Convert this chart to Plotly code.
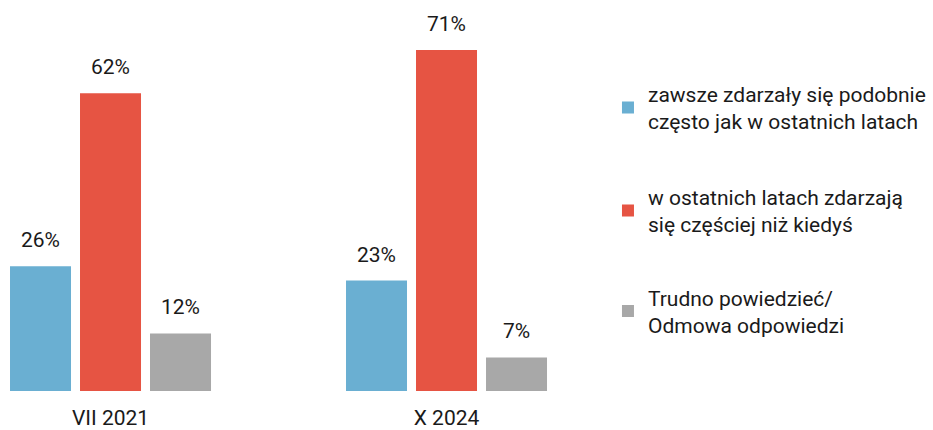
import plotly.graph_objects as go

periods = ["VII 2021", "X 2024"]
series_names = [
    "zawsze zdarzały się podobnie<br>często jak w ostatnich latach",
    "w ostatnich latach zdarzają<br>się częściej niż kiedyś",
    "Trudno powiedzieć/<br>Odmowa odpowiedzi",
]
always = [26, 23]
more_often = [62, 71]
hard_to_say = [12, 7]
colors = ["#6aafd2", "#e65443", "#a8a8a8"]

values = [always, more_often, hard_to_say]
shifts = [-70, 0, 70]
legend_ids = ["legend", "legend2", "legend3"]
legend_y = [0.8177, 0.552, 0.293]

fig = go.Figure()
for i, (name, vals, col) in enumerate(zip(series_names, values, colors)):
    fig.add_trace(go.Bar(
        x=periods, y=vals, name=name,
        marker=dict(color=col, line=dict(width=0)),
        legend=legend_ids[i],
    ))
    for p, v in zip(periods, vals):
        fig.add_annotation(
            x=p, y=v, text=f"{v}%", showarrow=False,
            xshift=shifts[i], yshift=12, yanchor="bottom",
            font=dict(size=21, color="#1a1a1a"),
        )

fig.update_layout(
    width=933, height=430,
    margin=dict(l=0, r=333, t=3, b=32),
    paper_bgcolor="white", plot_bgcolor="white",
    font=dict(family="Roboto", size=21, color="#1a1a1a"),
    barmode="group", bargap=0.375, bargroupgap=0.1286,
    showlegend=True,
)
for lid, ly in zip(legend_ids, legend_y):
    fig.update_layout({lid: dict(
        x=1.0133, xanchor="left", y=ly, yanchor="top",
        font=dict(size=21),
    )})

fig.update_xaxes(
    type="category", range=[-0.3289, 1.4568],
    showgrid=False, showline=False, ticks="", zeroline=False,
    ticklabelstandoff=12,
)
fig.update_yaxes(range=[0, 80.8], visible=False, showgrid=False)

# drop the default 8px page margin so the figure fills the window
fig.write_html(
    "out.html",
    config={"displayModeBar": False},
    post_script="document.body.style.margin='0';document.body.style.overflow='hidden';",
)
